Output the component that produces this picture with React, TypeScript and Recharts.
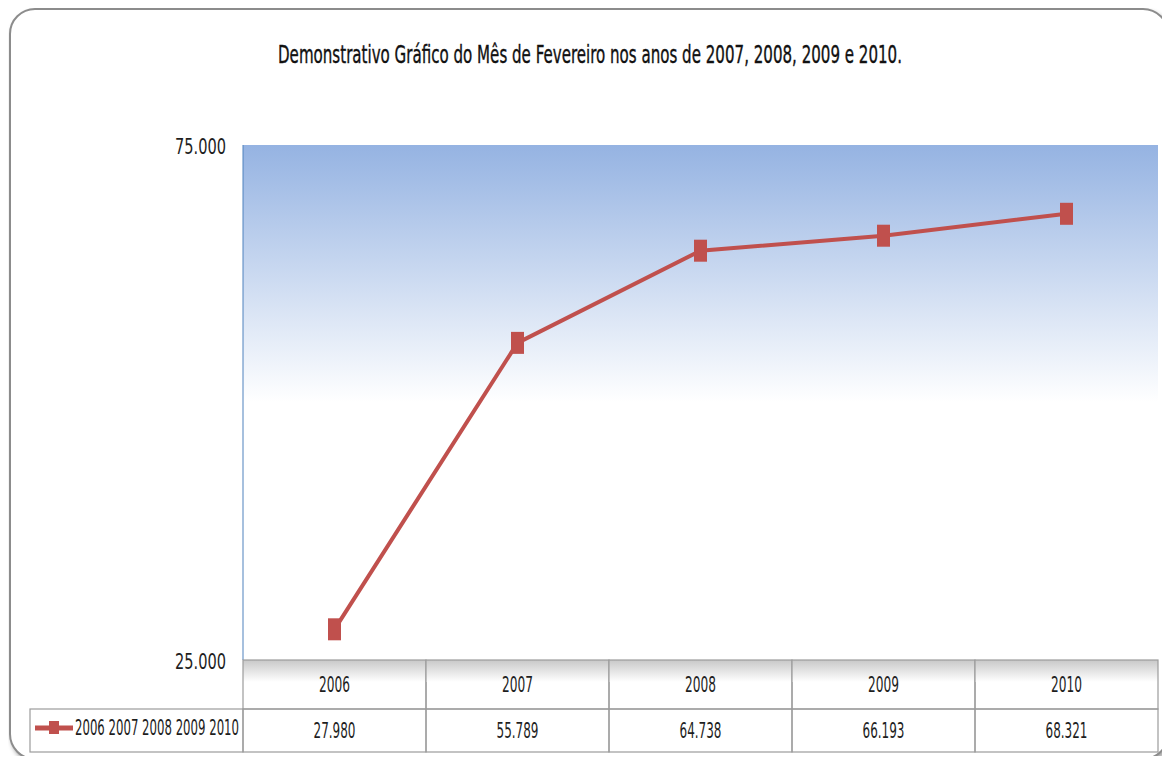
import React from "react";
import { CartesianGrid, Customized, Line, LineChart, XAxis, YAxis } from "recharts";

const YEARS = [2006, 2007, 2008, 2009, 2010];
const VALUES = [27980, 55789, 64738, 66193, 68321];
const Y_TICKS = [25000, 75000];
const TITLE = "Demonstrativo Gráfico do Mês de Fevereiro nos anos de 2007, 2008, 2009 e 2010.";
const SERIES_NAME = "2006 2007 2008 2009 2010";

const data = YEARS.map((year, i) => ({ year, value: VALUES[i] }));

const FONT = "'Liberation Sans Narrow', 'DejaVu Sans Condensed', 'Liberation Sans', sans-serif";
const RED = "#c0504d";
const GRID = "#9c9c9c";

// table layout (pixels)
const PLOT_LEFT = 243;
const PLOT_RIGHT = 1158;
const PLOT_BOTTOM = 660;
const ROW_SPLIT = 709;
const TABLE_BOTTOM = 752;
const BAND = (PLOT_RIGHT - PLOT_LEFT) / YEARS.length;

const fmt = (v: number) => v.toLocaleString("de-DE");

function TableTick(props: any) {
  const { x, payload, index } = props;
  const left = x - BAND / 2;
  const value = VALUES[index ?? YEARS.indexOf(payload.value)];
  return (
    <g>
      <rect x={left} y={PLOT_BOTTOM} width={BAND} height={22} fill="url(#hdrShadow)" />
      <rect x={left} y={PLOT_BOTTOM} width={BAND} height={ROW_SPLIT - PLOT_BOTTOM} fill="none" stroke={GRID} strokeWidth={1.2} />
      <rect x={left} y={ROW_SPLIT} width={BAND} height={TABLE_BOTTOM - ROW_SPLIT} fill="none" stroke={GRID} strokeWidth={1.2} />
      <text x={x} y={692} textAnchor="middle" fontFamily={FONT} fontSize={22} fill="#1e1e1e" textLength={31} lengthAdjust="spacingAndGlyphs">
        {payload.value}
      </text>
      <text x={x} y={738} textAnchor="middle" fontFamily={FONT} fontSize={22} fill="#1e1e1e" textLength={42} lengthAdjust="spacingAndGlyphs">
        {fmt(value)}
      </text>
    </g>
  );
}

function ValueTick(props: any) {
  const { y, payload } = props;
  return (
    <text x={226} y={y + 9} textAnchor="end" fontFamily={FONT} fontSize={22} fill="#1e1e1e" textLength={51} lengthAdjust="spacingAndGlyphs">
      {fmt(payload.value)}
    </text>
  );
}

function SquareDot(props: any) {
  const { cx, cy } = props;
  if (cx == null || cy == null) return null;
  return <rect x={cx - 6.5} y={cy - 11} width={13} height={22} fill={RED} />;
}

function Extras() {
  return (
    <g>
      <g transform="translate(590,63) scale(0.65,1)">
        <text
          x={0}
          y={0}
          textAnchor="middle"
          fontFamily={FONT}
          fontSize={24}
          fill="#111"
          stroke="#111"
          strokeWidth={0.35}
          textLength={960}
          lengthAdjust="spacingAndGlyphs"
        >
          {TITLE}
        </text>
      </g>
      <rect x={30} y={ROW_SPLIT} width={PLOT_LEFT - 30} height={TABLE_BOTTOM - ROW_SPLIT} fill="none" stroke={GRID} strokeWidth={1.2} />
      <line x1={35} x2={73} y1={728} y2={728} stroke={RED} strokeWidth={5} />
      <rect x={49} y={721} width={10} height={13} fill={RED} />
      <g transform="translate(75,735) scale(0.59,1)">
        <text x={0} y={0} fontFamily={FONT} fontSize={22} fill="#1e1e1e" textLength={278} lengthAdjust="spacingAndGlyphs">
          {SERIES_NAME}
        </text>
      </g>
    </g>
  );
}

export default function App() {
  return (
    <div style={{ position: "relative", margin: -8, width: 1170, height: 764, background: "#fff", overflow: "hidden" }}>
      <div
        style={{
          position: "absolute",
          left: 9,
          top: 8,
          width: 1160,
          height: 752,
          boxSizing: "border-box",
          border: "2px solid #8c8c8c",
          borderRadius: 26,
          boxShadow: "2px 3px 4px rgba(0,0,0,0.35)",
          background: "#fff",
        }}
      />
      <div style={{ position: "absolute", left: 0, top: 0 }}>
        <LineChart width={1170} height={764} data={data} margin={{ top: 145, right: 12, bottom: 0, left: 143 }}>
          <defs>
            <linearGradient id="plotBg" x1="0" y1="0" x2="0" y2="1">
              <stop offset="0%" stopColor="#95b3e2" />
              <stop offset="50%" stopColor="#ffffff" />
              <stop offset="100%" stopColor="#ffffff" />
            </linearGradient>
            <linearGradient id="hdrShadow" x1="0" y1="0" x2="0" y2="1">
              <stop offset="0%" stopColor="#c8c8c8" />
              <stop offset="100%" stopColor="#ffffff" />
            </linearGradient>
          </defs>
          <CartesianGrid horizontal={false} vertical={false} fill="url(#plotBg)" />
          <XAxis
            dataKey="year"
            type="number"
            domain={[YEARS[0] - 0.5, YEARS[YEARS.length - 1] + 0.5]}
            ticks={YEARS}
            interval={0}
            height={104}
            axisLine={false}
            tickLine={false}
            tick={<TableTick />}
          />
          <YAxis
            domain={[Y_TICKS[0], Y_TICKS[1]]}
            ticks={Y_TICKS}
            width={100}
            axisLine={{ stroke: "#4f81bd", strokeWidth: 1 }}
            tickLine={false}
            tick={<ValueTick />}
          />
          <Line
            dataKey="value"
            stroke={RED}
            strokeWidth={4}
            dot={<SquareDot />}
            activeDot={false}
            isAnimationActive={false}
          />
          <Customized component={Extras} />
        </LineChart>
      </div>
    </div>
  );
}
